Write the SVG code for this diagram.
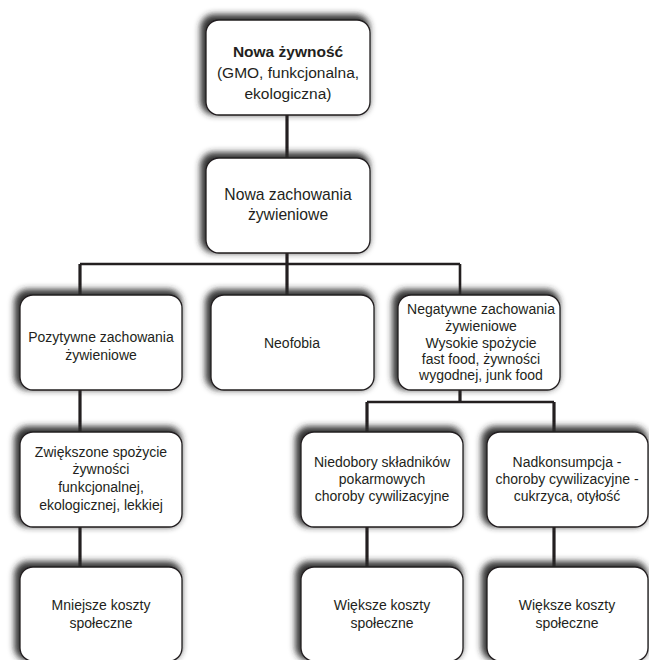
<svg xmlns="http://www.w3.org/2000/svg" width="649" height="660" viewBox="0 0 649 660">
<style>
.box{fill:#fff;stroke:#231f20;stroke-width:1.3;filter:url(#sh)}
.t{font-family:"Liberation Sans",Arial,sans-serif;font-size:14px;fill:#231f20;text-anchor:middle}
.big{font-size:15.5px}
.b{font-weight:bold}
.c{stroke:#231f20;fill:none;stroke-linecap:butt}
.v{stroke-width:3.2}
.h{stroke-width:2.6}
</style>
<defs>
<filter id="sh" x="-20%" y="-20%" width="140%" height="140%">
<feMorphology in="SourceAlpha" operator="dilate" radius="1.5" result="d"/>
<feOffset in="d" dx="-3" dy="-3" result="o"/>
<feGaussianBlur in="o" stdDeviation="3" result="b"/>
<feFlood flood-color="#2a2a2a" flood-opacity="0.95"/>
<feComposite in2="b" operator="in" result="s"/>
<feMerge><feMergeNode in="s"/><feMergeNode in="SourceGraphic"/></feMerge>
</filter>
</defs>
<rect width="649" height="660" fill="#fff"/>
<g id="connectors">
<path class="c v" d="M287 115V158"/>
<path class="c v" d="M287 253V295"/>
<path class="c h" d="M80 264H460"/>
<path class="c v" d="M80 264V295"/>
<path class="c h" d="M460 264V295"/>
<path class="c v" d="M80 390V432"/>
<path class="c v" d="M80 527V567"/>
<path class="c v" d="M460 390V402"/>
<path class="c h" d="M367 402H554"/>
<path class="c v" d="M367 402V432"/>
<path class="c v" d="M554 402V432"/>
<path class="c v" d="M367 527V567"/>
<path class="c v" d="M554 527V567"/>
</g>
<g id="n1"><rect class="box" x="206" y="20" width="164" height="95" rx="13"/>
<text class="t big b" x="288" y="57">Nowa żywność</text>
<text class="t big" x="288" y="78">(GMO, funkcjonalna,</text>
<text class="t big" x="288" y="99">ekologiczna)</text></g>
<g id="n2"><rect class="box" x="206" y="158" width="164" height="95" rx="13"/>
<text class="t" style="font-size:15.7px" x="288" y="200">Nowa zachowania</text>
<text class="t" style="font-size:15.7px" x="288" y="220">żywieniowe</text></g>
<g id="n3"><rect class="box" x="20" y="295" width="162" height="95" rx="13"/>
<text class="t" x="101" y="342">Pozytywne zachowania</text>
<text class="t" x="101" y="360">żywieniowe</text></g>
<g id="n4"><rect class="box" x="211" y="295" width="163" height="95" rx="13"/>
<text class="t" x="292" y="348">Neofobia</text></g>
<g id="n5"><rect class="box" x="398" y="295" width="162" height="95" rx="13"/>
<text class="t" x="481" y="314">Negatywne zachowania</text>
<text class="t" x="481" y="331">żywieniowe</text>
<text class="t" x="481" y="348">Wysokie spożycie</text>
<text class="t" x="481" y="364">fast food, żywności</text>
<text class="t" x="481" y="380">wygodnej, junk food</text></g>
<g id="n6"><rect class="box" x="20" y="432" width="162" height="95" rx="13"/>
<text class="t" x="101" y="457">Zwiększone spożycie</text>
<text class="t" x="101" y="474">żywności</text>
<text class="t" x="101" y="492">funkcjonalnej,</text>
<text class="t" x="101" y="510">ekologicznej, lekkiej</text></g>
<g id="n7"><rect class="box" x="301" y="432" width="162" height="95" rx="13"/>
<text class="t" x="382" y="467">Niedobory składników</text>
<text class="t" x="382" y="484">pokarmowych</text>
<text class="t" x="382" y="501">choroby cywilizacyjne</text></g>
<g id="n8"><rect class="box" x="487" y="432" width="161" height="95" rx="13"/>
<text class="t" x="567" y="467">Nadkonsumpcja -</text>
<text class="t" x="567" y="484">choroby cywilizacyjne -</text>
<text class="t" x="567" y="501">cukrzyca, otyłość</text></g>
<g id="n9"><rect class="box" x="20" y="567" width="162" height="94" rx="13"/>
<text class="t" x="101" y="610">Mniejsze koszty</text>
<text class="t" x="101" y="628">społeczne</text></g>
<g id="n10"><rect class="box" x="301" y="567" width="162" height="94" rx="13"/>
<text class="t" x="382" y="610">Większe koszty</text>
<text class="t" x="382" y="628">społeczne</text></g>
<g id="n11"><rect class="box" x="487" y="567" width="161" height="94" rx="13"/>
<text class="t" x="567" y="610">Większe koszty</text>
<text class="t" x="567" y="628">społeczne</text></g>
</svg>
